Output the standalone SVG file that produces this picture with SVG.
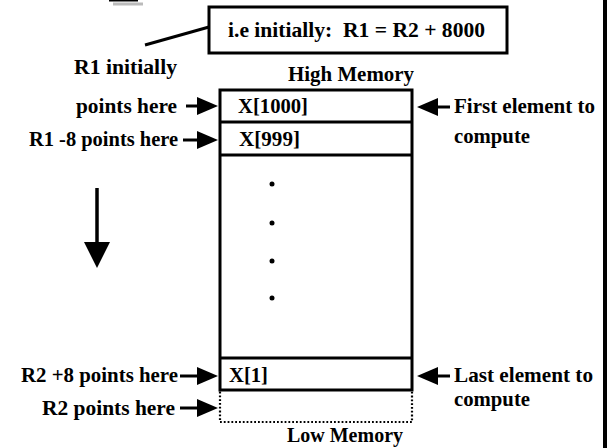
<svg xmlns="http://www.w3.org/2000/svg" width="610" height="448" viewBox="0 0 610 448">
<style>
  text { font-family: "Liberation Serif", "Times New Roman", serif; font-weight: bold; font-size: 22px; fill: #000; white-space: pre; }
  .box { fill: #fff; stroke: #000; stroke-width: 3; }
  .conn { stroke: #000; stroke-width: 3; fill: none; }
  .dots { fill: #000; }
</style>
<defs>
  <marker id="head" markerUnits="userSpaceOnUse" markerWidth="21" markerHeight="18" refX="1" refY="9" orient="auto">
    <path d="M0,0 L21,9 L0,18 z" fill="#000"/>
  </marker>
  <marker id="bighead" markerUnits="userSpaceOnUse" markerWidth="26" markerHeight="26" refX="1" refY="13" orient="auto">
    <path d="M0,0 L26,13 L0,26 z" fill="#000"/>
  </marker>
</defs>
<rect width="610" height="448" fill="#fff"/>
<!-- edge artifacts -->
<rect x="109" y="0" width="29" height="1.5" fill="#000"/>
<rect x="113" y="2.5" width="30" height="3" fill="#bbb"/>
<rect x="603" y="0" width="4" height="448" fill="#000"/>

<g id="callout">
  <rect class="box" x="209" y="7" width="298" height="46"/>
  <text x="228" y="37" textLength="257" lengthAdjust="spacingAndGlyphs">i.e initially:  R1 = R2 + 8000</text>
</g>

<g id="memory">
  <rect class="box" x="220" y="90" width="192" height="300"/>
  <line class="conn" x1="220" y1="122" x2="412" y2="122"/>
  <line class="conn" x1="220" y1="155" x2="412" y2="155"/>
  <line class="conn" x1="220" y1="358" x2="412" y2="358"/>
  <text x="288" y="81" textLength="126" lengthAdjust="spacingAndGlyphs">High Memory</text>
</g>
<g id="x1000"><text x="238" y="113" textLength="70" lengthAdjust="spacingAndGlyphs">X[1000]</text></g>
<g id="x999"><text x="239" y="146" textLength="61" lengthAdjust="spacingAndGlyphs">X[999]</text></g>
<g id="ellipsis">
  <circle class="dots" cx="272" cy="184" r="2.5"/>
  <circle class="dots" cx="272" cy="223" r="2.5"/>
  <circle class="dots" cx="272" cy="261" r="2.5"/>
  <circle class="dots" cx="272" cy="298" r="2.5"/>
</g>
<g id="x1"><text x="229" y="382" textLength="39" lengthAdjust="spacingAndGlyphs">X[1]</text></g>
<g id="below">
  <rect x="220" y="390" width="192" height="32" fill="none" stroke="#000" stroke-width="2.2" stroke-dasharray="1.8,2"/>
  <text x="287" y="442" textLength="116" lengthAdjust="spacingAndGlyphs">Low Memory</text>
</g>

<g id="labels">
  <text x="74" y="74" textLength="103" lengthAdjust="spacingAndGlyphs">R1 initially</text>
  <text x="76" y="113" textLength="101" lengthAdjust="spacingAndGlyphs">points here</text>
  <text x="29" y="146" textLength="149" lengthAdjust="spacingAndGlyphs">R1 -8 points here</text>
  <text x="454" y="113" textLength="141" lengthAdjust="spacingAndGlyphs">First element to</text>
  <text x="454" y="143" textLength="76" lengthAdjust="spacingAndGlyphs">compute</text>
  <text x="21" y="382" textLength="157" lengthAdjust="spacingAndGlyphs">R2 +8 points here</text>
  <text x="454" y="382" textLength="139" lengthAdjust="spacingAndGlyphs">Last element to</text>
  <text x="454" y="406" textLength="76" lengthAdjust="spacingAndGlyphs">compute</text>
  <text x="42" y="415" textLength="133" lengthAdjust="spacingAndGlyphs">R2 points here</text>
</g>

<g id="connectors">
  <line class="conn" x1="145" y1="45" x2="209" y2="27"/>
  <line class="conn" x1="186" y1="106" x2="198" y2="106" marker-end="url(#head)"/>
  <line class="conn" x1="183" y1="140" x2="198" y2="140" marker-end="url(#head)"/>
  <line class="conn" x1="180" y1="376" x2="198" y2="376" marker-end="url(#head)"/>
  <line class="conn" x1="180" y1="408" x2="198" y2="408" marker-end="url(#head)"/>
  <line class="conn" x1="450" y1="107" x2="437" y2="107" marker-end="url(#head)"/>
  <line class="conn" x1="450" y1="376" x2="437" y2="376" marker-end="url(#head)"/>
  <line x1="97" y1="188" x2="97" y2="243" stroke="#000" stroke-width="3.5" marker-end="url(#bighead)"/>
</g>
</svg>
